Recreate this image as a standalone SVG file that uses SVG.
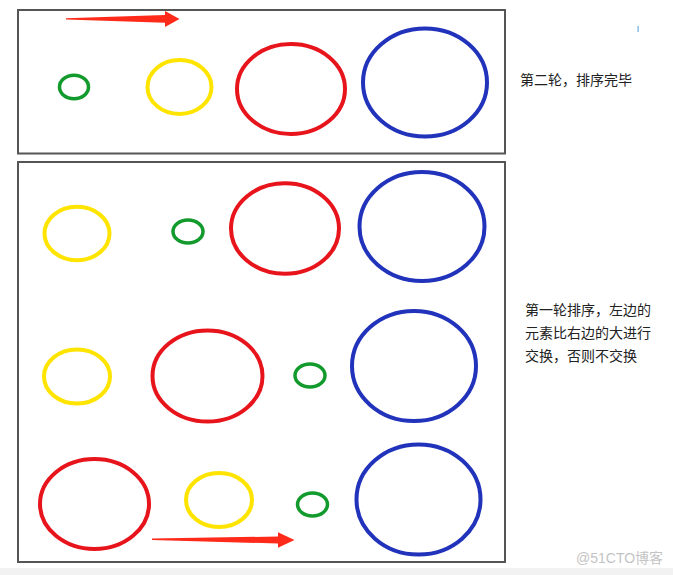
<svg xmlns="http://www.w3.org/2000/svg" width="673" height="575" viewBox="0 0 673 575">
<style>
.frame{fill:#fff;stroke:#555;stroke-width:2}
.g{fill:none;stroke:#129a2c;stroke-width:3.5}
.y{fill:none;stroke:#ffe400;stroke-width:4}
.r{fill:none;stroke:#e8141c;stroke-width:4}
.b{fill:none;stroke:#2233bb;stroke-width:4}
.arrow{fill:#ff2a1a;stroke:none}
.t{font-family:"Liberation Sans","Noto Sans CJK SC",sans-serif;font-size:14px;fill:#222}
.wm{font-family:"Liberation Sans","Noto Sans CJK SC",sans-serif;font-size:14px;fill:#c4c4c4}
</style>
<rect x="0" y="0" width="673" height="575" fill="#fff"/>
<rect x="0" y="568" width="673" height="7" fill="#f2f2f2"/>

<g id="round2">
<rect class="frame" x="18" y="10" width="487" height="143.5"/>
<ellipse class="g" cx="74" cy="87" rx="14.5" ry="11.7"/>
<ellipse class="y" cx="179.5" cy="87" rx="32" ry="27"/>
<ellipse class="r" cx="291" cy="89" rx="54" ry="45"/>
<ellipse class="b" cx="425" cy="82.5" rx="62" ry="54"/>
</g>

<g id="round1">
<rect class="frame" x="18" y="162" width="487" height="400"/>
<g id="row1">
<ellipse class="y" cx="77" cy="233.5" rx="32.5" ry="26.7"/>
<ellipse class="g" cx="188" cy="231.5" rx="15" ry="11.5"/>
<ellipse class="r" cx="285" cy="228.5" rx="54" ry="45.3"/>
<ellipse class="b" cx="422" cy="226.5" rx="62.5" ry="54.5"/>
</g>
<g id="row2">
<ellipse class="y" cx="77" cy="376.5" rx="33" ry="27"/>
<ellipse class="r" cx="207.5" cy="376" rx="55" ry="45.5"/>
<ellipse class="g" cx="310" cy="375.5" rx="15" ry="11.5"/>
<ellipse class="b" cx="414" cy="366" rx="62" ry="55"/>
</g>
<g id="row3">
<ellipse class="r" cx="94.5" cy="504" rx="54.5" ry="45"/>
<ellipse class="y" cx="219" cy="500" rx="33" ry="27"/>
<ellipse class="g" cx="312.5" cy="504.5" rx="15" ry="11.5"/>
<ellipse class="b" cx="418.5" cy="499.5" rx="62" ry="55"/>
</g>
</g>

<g id="connectors">
<path class="arrow" d="M66,18.2 L165,15 L165,11 L179.5,19 L165,27 L165,22.7 L66,19.6 Z"/>
<path class="arrow" d="M152,538.5 L278,536.5 L278,532.3 L294.5,540 L278,547.7 L278,543.5 L152,540 Z"/>
</g>

<g id="label-round2">
<text class="t" x="520" y="85">第二轮，排序完毕</text>
</g>
<g id="label-round1">
<text class="t" x="525" y="315">第一轮排序，左边的</text>
<text class="t" x="525" y="338">元素比右边的大进行</text>
<text class="t" x="525" y="361">交换，否则不交换</text>
</g>
<rect x="637.5" y="26" width="1.2" height="6" fill="#6aaee8"/>
<text class="wm" x="576" y="563">@51CTO博客</text>
</svg>
